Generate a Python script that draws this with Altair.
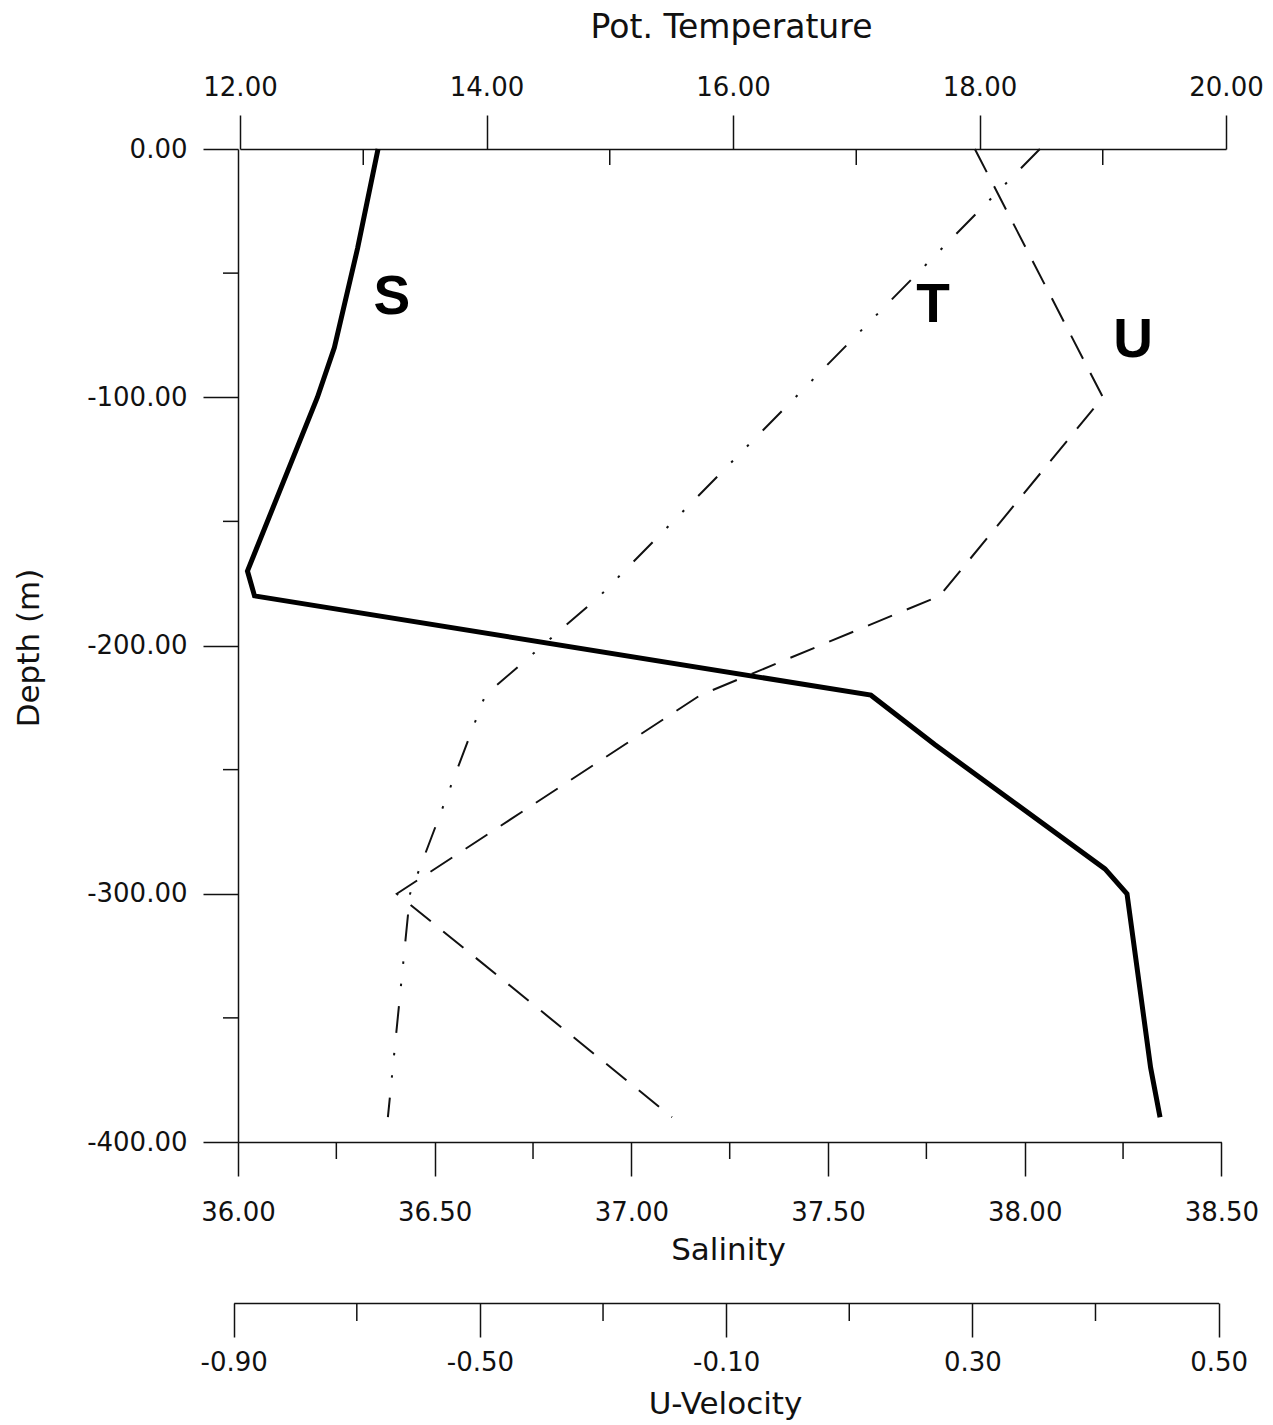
import altair as alt
import pandas as pd

# ---------------- data ----------------
S_DEPTH = [0, -40, -80, -100, -170, -180, -220, -240, -290, -300, -370, -390]
S_VALUES = [36.356, 36.304, 36.245, 36.202, 36.024, 36.042, 37.609, 37.772, 38.204, 38.260, 38.320, 38.344]

T_DEPTH = [0, -180, -220, -300, -390]
T_VALUES = [18.49, 14.92, 13.99, 13.38, 13.20]

U_DEPTH = [0, -100, -180, -220, -300, -390]
U_VALUES = [0.304, 0.512, 0.247, -0.142, -0.635, -0.188]

TEMP_TICKS = [12, 14, 16, 18, 20]
TEMP_LABELS = ["12.00", "14.00", "16.00", "18.00", "20.00"]
TEMP_MINOR = [13, 15, 17, 19]

SAL_TICKS = [36.0, 36.5, 37.0, 37.5, 38.0, 38.5]
SAL_LABELS = ["36.00", "36.50", "37.00", "37.50", "38.00", "38.50"]
SAL_MINOR = [36.25, 36.75, 37.25, 37.75, 38.25]

U_TICKS = [-0.9, -0.5, -0.1, 0.3, 0.7]
U_LABELS = ["-0.90", "-0.50", "-0.10", "0.30", "0.50"]
U_MINOR = [-0.7, -0.3, 0.1, 0.5]

DEPTH_TICKS = [0, -100, -200, -300, -400]
DEPTH_LABELS = ["0.00", "-100.00", "-200.00", "-300.00", "-400.00"]
DEPTH_MINOR = [-50, -150, -250, -350]

CURVE_NAMES = ["S", "T", "U"]
LABEL_S = (36.391, -66.5)
LABEL_T = (17.623, -69.8)
LABEL_U = (0.561, -83.9)

# ---------------- layout ----------------
W, H = 988, 993
U_OFFSET = 161
INK = "#111111"
FONT = "DejaVu Sans"


def label_expr(ticks, labels):
    expr = "''"
    for v, lab in reversed(list(zip(ticks, labels))):
        expr = f"abs(datum.value - ({v})) < 1e-6 ? '{lab}' : ({expr})"
    return expr


temp_scale = alt.Scale(domain=[12, 20], range=[2, 988], nice=False, zero=False)
sal_scale = alt.Scale(domain=[36, 38.5], range=[0, 983.4], nice=False, zero=False)
u_scale = alt.Scale(domain=[-0.9, 0.7], range=[-4.3, 980.6], nice=False, zero=False)
depth_scale = alt.Scale(domain=[-400, 0], nice=False, zero=False)

common_axis = dict(grid=False, labelFlush=False, labelOverlap=False,
                   domainColor=INK, tickColor=INK, domainWidth=1.5, tickWidth=1.5,
                   labelColor=INK, titleColor=INK, labelFont=FONT, titleFont=FONT,
                   labelFontSize=26, titleFontWeight="normal")

y_axis = alt.Axis(orient="left", values=DEPTH_TICKS,
                  labelExpr=label_expr(DEPTH_TICKS, DEPTH_LABELS),
                  tickSize=35, labelPadding=16, title="Depth (m)", titleFontSize=31,
                  titleAngle=270, titleX=-200, titleY=498.5, titleAlign="center",
                  titleBaseline="alphabetic", **common_axis)
y_enc = alt.Y("depth:Q", scale=depth_scale, axis=y_axis)

temp_axis = alt.Axis(orient="top", values=TEMP_TICKS,
                     labelExpr=label_expr(TEMP_TICKS, TEMP_LABELS),
                     tickSize=34, labelPadding=20, labelBaseline="alphabetic",
                     title="Pot. Temperature", titleFontSize=33, titleX=493, titleY=-112,
                     titleAlign="center", titleBaseline="alphabetic", **common_axis)
sal_axis = alt.Axis(orient="bottom", values=SAL_TICKS,
                    labelExpr=label_expr(SAL_TICKS, SAL_LABELS),
                    tickSize=34, labelPadding=44, labelBaseline="alphabetic",
                    title="Salinity", titleFontSize=31, titleX=490, titleY=117,
                    titleAlign="center", titleBaseline="alphabetic", **common_axis)
u_axis = alt.Axis(orient="bottom", offset=U_OFFSET, values=U_TICKS,
                  labelExpr=label_expr(U_TICKS, U_LABELS),
                  tickSize=34, labelPadding=33, labelBaseline="alphabetic",
                  title="U-Velocity", titleFontSize=31, titleX=487, titleY=110,
                  titleAlign="center", titleBaseline="alphabetic", **common_axis)

s_df = pd.DataFrame({"sal": S_VALUES, "depth": S_DEPTH, "idx": range(len(S_DEPTH))})
t_df = pd.DataFrame({"temp": T_VALUES, "depth": T_DEPTH, "idx": range(len(T_DEPTH))})
u_df = pd.DataFrame({"u": U_VALUES, "depth": U_DEPTH, "idx": range(len(U_DEPTH))})

s_line = alt.Chart(s_df).mark_line(color="black", strokeWidth=5, strokeJoin="miter").encode(
    x=alt.X("sal:Q", scale=sal_scale, axis=sal_axis), y=y_enc, order="idx:Q")
t_line = alt.Chart(t_df).mark_line(color=INK, strokeWidth=2, strokeDash=[27, 20, 2.5, 20, 2.5, 20]).encode(
    x=alt.X("temp:Q", scale=temp_scale, axis=temp_axis), y=y_enc, order="idx:Q")
u_line = alt.Chart(u_df).mark_line(color=INK, strokeWidth=2, strokeDash=[26, 16]).encode(
    x=alt.X("u:Q", scale=u_scale, axis=u_axis), y=y_enc, order="idx:Q")

text_style = dict(font="Liberation Sans", fontSize=55, fontWeight="bold",
                  baseline="alphabetic", align="center", color="black")
s_text = alt.Chart(pd.DataFrame({"sal": [LABEL_S[0]], "depth": [LABEL_S[1]], "name": [CURVE_NAMES[0]]})).mark_text(**text_style).encode(
    x=alt.X("sal:Q", scale=sal_scale, axis=None), y=y_enc, text="name:N")
t_text = alt.Chart(pd.DataFrame({"temp": [LABEL_T[0]], "depth": [LABEL_T[1]], "name": [CURVE_NAMES[1]]})).mark_text(**text_style).encode(
    x=alt.X("temp:Q", scale=temp_scale, axis=None), y=y_enc, text="name:N")
u_text = alt.Chart(pd.DataFrame({"u": [LABEL_U[0]], "depth": [LABEL_U[1]], "name": [CURVE_NAMES[2]]})).mark_text(**text_style).encode(
    x=alt.X("u:Q", scale=u_scale, axis=None), y=y_enc, text="name:N")

temp_minor = alt.Chart(pd.DataFrame({"temp": TEMP_MINOR})).mark_rule(color=INK, strokeWidth=1.5).encode(
    x=alt.X("temp:Q", scale=temp_scale, axis=None), y=alt.value(0), y2=alt.value(16))
sal_minor = alt.Chart(pd.DataFrame({"sal": SAL_MINOR})).mark_rule(color=INK, strokeWidth=1.5).encode(
    x=alt.X("sal:Q", scale=sal_scale, axis=None), y=alt.value(H), y2=alt.value(H + 17))
u_minor = alt.Chart(pd.DataFrame({"u": U_MINOR})).mark_rule(color=INK, strokeWidth=1.5).encode(
    x=alt.X("u:Q", scale=u_scale, axis=None), y=alt.value(H + U_OFFSET), y2=alt.value(H + U_OFFSET + 18))
depth_minor = alt.Chart(pd.DataFrame({"depth": DEPTH_MINOR})).mark_rule(color=INK, strokeWidth=1.5).encode(
    y=y_enc, x=alt.value(-15), x2=alt.value(0))

chart = alt.layer(
    s_line, t_line, u_line, s_text, t_text, u_text,
    temp_minor, sal_minor, u_minor, depth_minor,
).resolve_scale(x="independent").properties(
    width=W, height=H,
    padding={"left": 230, "top": 141, "right": 39, "bottom": 283},
    autosize=alt.AutoSizeParams(type="none"),
    background="white",
).configure_view(strokeWidth=0)

chart.save("out.html", embed_options={"renderer": "svg", "actions": False})
